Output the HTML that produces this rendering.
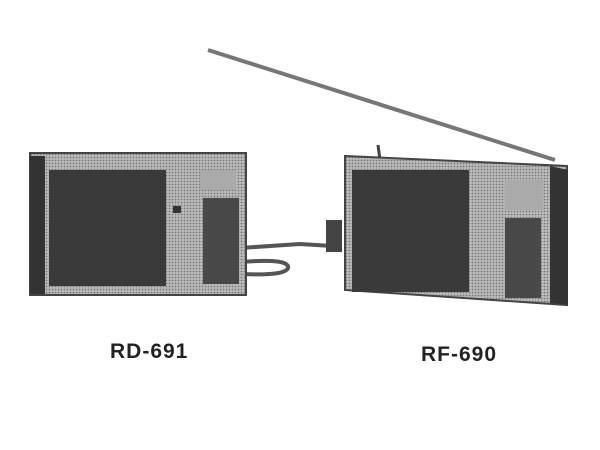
<!DOCTYPE html>
<html><head><style>
body{margin:0;width:600px;height:450px;background:#fff;overflow:hidden;position:relative;font-family:"Liberation Sans",sans-serif}
.t{position:absolute;font-size:21px;color:#222;letter-spacing:1px;font-weight:bold}
</style></head><body>
<svg width="600" height="450" style="position:absolute;left:0;top:0">
<defs>
<pattern id="d" width="3" height="3" patternUnits="userSpaceOnUse"><rect width="3" height="3" fill="#bbb"/><circle cx="1.5" cy="1.5" r="0.9" fill="#777"/></pattern>
</defs>
<line x1="208" y1="50" x2="555" y2="160" stroke="#777" stroke-width="4"/>
<line x1="378" y1="145" x2="380" y2="160" stroke="#444" stroke-width="3"/>
<path d="M240 248 L300 244 L332 246" stroke="#555" stroke-width="4" fill="none"/>
<path d="M240 262 Q290 258 288 268 Q285 276 242 274" stroke="#555" stroke-width="4" fill="none"/>
<rect x="326" y="220" width="16" height="32" fill="#444"/>
<rect x="30" y="153" width="216" height="142" fill="url(#d)" stroke="#444" stroke-width="2"/>
<rect x="30" y="156" width="15" height="138" fill="#333"/>
<rect x="49" y="170" width="117" height="116" fill="#3a3a3a"/>
<rect x="203" y="198" width="36" height="86" fill="#484848"/>
<rect x="200" y="170" width="36" height="20" fill="#aaa"/>
<rect x="173" y="206" width="8" height="7" fill="#333"/>
<polygon points="345,156 567,166 567,305 345,290" fill="url(#d)" stroke="#444" stroke-width="2"/>
<polygon points="550,166 568,170 568,305 550,303" fill="#333"/>
<rect x="352" y="170" width="117" height="122" fill="#3a3a3a"/>
<rect x="505" y="218" width="36" height="80" fill="#484848"/>
<rect x="505" y="180" width="38" height="30" fill="#aaa"/>
</svg>
<div class="t" style="left:110px;top:340px">RD-691</div>
<div class="t" style="left:421px;top:343px">RF-690</div>
</body></html>
